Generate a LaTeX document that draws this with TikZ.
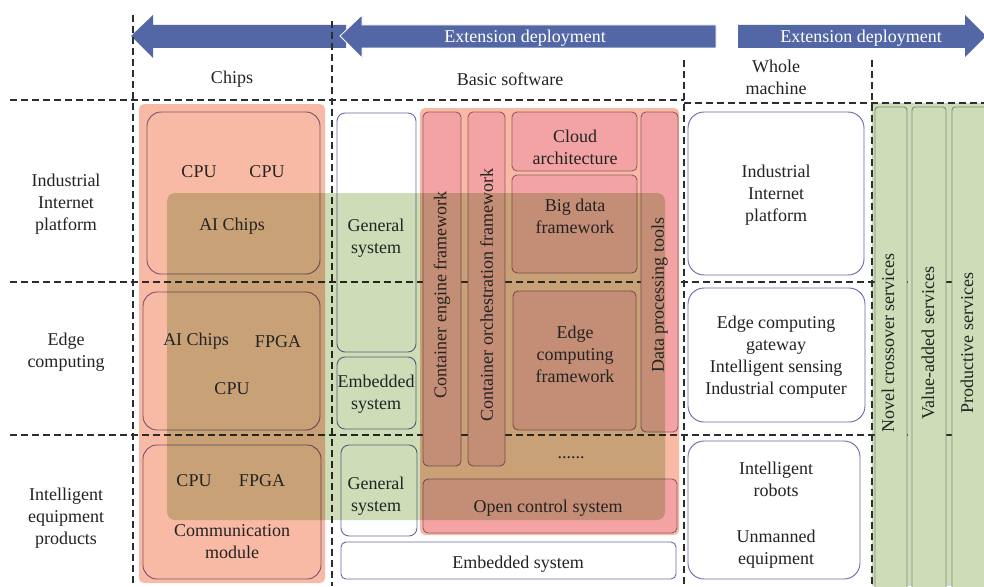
\documentclass[tikz,border=0pt]{standalone}
\usepackage{fontspec}
\setmainfont{Liberation Serif}
\definecolor{arrowblue}{RGB}{83,103,166}
\definecolor{chippink}{RGB}{249,186,165}
\definecolor{framered}{RGB}{243,163,163}
\definecolor{redline}{RGB}{145,90,100}
\definecolor{boxblue}{RGB}{105,105,165}
\definecolor{chipline}{RGB}{120,82,112}
\definecolor{overlaygreen}{RGB}{206,221,184}
\definecolor{servline}{RGB}{125,140,120}
\definecolor{gridgray}{RGB}{45,45,45}
\definecolor{inkgray}{RGB}{35,35,35}
\tikzset{
  chipbox/.style={draw=chipline, line width=0.9pt, rounded corners=14pt, inner sep=0pt},
  redbox/.style={draw=redline, fill=framered, line width=0.9pt, rounded corners=5pt, inner sep=0pt},
  bluebox/.style={draw=boxblue, line width=0.9pt, rounded corners=8pt, inner sep=0pt},
  machinebox/.style={draw=boxblue, line width=0.9pt, rounded corners=16pt, inner sep=0pt},
  servbox/.style={draw=servline, fill=overlaygreen, line width=0.9pt, rounded corners=3pt, inner sep=0pt},
  gridline/.style={draw=gridgray, line width=1.3pt, dash pattern=on 7pt off 4pt},
  label/.style={align=center, inner sep=0pt, text=inkgray, yshift=-1.5pt},
  vlabel/.style={align=center, inner sep=0pt, text=inkgray, rotate=90},
  arrowtext/.style={text=white, inner sep=0pt, yshift=-1pt},
}
\begin{document}
\begin{tikzpicture}[x=1pt, y=-1pt, font=\fontsize{18}{22}\selectfont]
\useasboundingbox (0,0) rectangle (984,586);
\fill[white] (0,0) rectangle (984,586);

% ---- deployment arrows ----
\fill[arrowblue] (131,36) -- (153,15) -- (153,25) -- (346,25) -- (346,48) -- (153,48) -- (153,58) -- cycle;
\filldraw[fill=arrowblue, draw=white, line width=0.8pt] (340,36) -- (362,15) -- (362,25) -- (716,25) -- (716,48) -- (362,48) -- (362,58) -- cycle;
\fill[arrowblue] (738,25) -- (965,25) -- (965,15) -- (986,36) -- (965,57) -- (965,48) -- (738,48) -- cycle;
\node[arrowtext] (extleft) at (525,37) {Extension deployment};
\node[arrowtext] (extright) at (861,37) {Extension deployment};

% ---- column headers ----
\node[label] (hchips) at (232,78) {Chips};
\node[label] (hsoft) at (510,78) {Basic software};
\node[label] (hmach) at (776,76) {Whole\\machine};

% ---- row labels ----
\node[label] (rplat) at (66,203) {Industrial\\Internet\\platform};
\node[label] (redge) at (66,351) {Edge\\computing};
\node[label] (requip) at (66,517) {Intelligent\\equipment\\products};

% ---- background bands ----
\node[fill=chippink, rounded corners=5pt, inner sep=0pt, minimum width=186pt, minimum height=479pt] (chipcol) at (232,343.5) {};
\node[fill=chippink, rounded corners=5pt, inner sep=0pt, minimum width=259pt, minimum height=427pt] (softwrap) at (549.5,321.5) {};
\fill[overlaygreen] (872,103) rectangle (984,586);

% ---- dashed grid ----
\draw[gridline] (133,15) -- (133,586);
\draw[gridline] (332,21) -- (332,586);
\draw[gridline] (684,60) -- (684,586);
\draw[gridline] (872,60) -- (872,586);
\draw[gridline] (10,100) -- (684,100);
\draw[gridline] (684,103) -- (984,103);
\draw[gridline] (10,282) -- (984,282);
\draw[gridline] (10,435) -- (984,435);

% ---- chips ----
\node[chipbox, minimum width=173pt, minimum height=162pt] (chipA) at (233.5,193) {};
\node[chipbox, minimum width=177pt, minimum height=138pt] (chipB) at (231.5,361) {};
\node[chipbox, minimum width=178pt, minimum height=134pt] (chipC) at (232,512) {};

% ---- basic software frameworks ----
\node[redbox, minimum width=38pt, minimum height=354pt] (ce) at (442,289) {};
\node[redbox, minimum width=37pt, minimum height=354pt] (co) at (486.5,289) {};
\node[redbox, minimum width=125pt, minimum height=59pt] (cloud) at (574.5,141.5) {};
\node[redbox, minimum width=125pt, minimum height=98pt] (bigdata) at (574.5,224) {};
\node[redbox, minimum width=37pt, minimum height=320pt] (dp) at (659.5,272) {};
\node[redbox, minimum width=123pt, minimum height=139pt] (edgefw) at (574.5,360.5) {};
\node[redbox, minimum width=254pt, minimum height=54pt] (ocs) at (550,506) {};

\node[bluebox, minimum width=79pt, minimum height=239pt] (gs1) at (376.5,232.5) {};
\node[bluebox, minimum width=79pt, minimum height=72pt] (es1) at (376.5,393) {};
\node[bluebox, minimum width=76pt, minimum height=91pt] (gs2) at (379,490.5) {};
\node[bluebox, rounded corners=5pt, minimum width=335pt, minimum height=37pt] (es2) at (508.5,560.5) {};

% ---- whole machine ----
\node[machinebox, minimum width=176pt, minimum height=163pt] (wm1) at (776,193.5) {};
\node[machinebox, minimum width=177pt, minimum height=134pt] (wm2) at (776.5,355) {};
\node[machinebox, minimum width=172pt, minimum height=138pt] (wm3) at (774,510) {};

% ---- services ----
\node[servbox, minimum width=32pt, minimum height=483pt] (sv1) at (891,348.5) {};
\node[servbox, minimum width=34pt, minimum height=483pt] (sv2) at (929,348.5) {};
\node[servbox, minimum width=40pt, minimum height=483pt] (sv3) at (972,348.5) {};

% ---- shared edge band across chips and software ----
\begin{scope}[blend mode=multiply]
\node[fill=overlaygreen, rounded corners=8pt, inner sep=0pt, minimum width=498pt, minimum height=327pt] (edgeband) at (416,356.5) {};
\end{scope}

% ---- texts: chips ----
\node[label] (cpu1) at (199,170) {CPU};
\node[label] (cpu2) at (267,170) {CPU};
\node[label] (ai1) at (232,225) {AI Chips};
\node[label] (ai2) at (196,340) {AI Chips};
\node[label] (fpga1) at (278,340) {FPGA};
\node[label] (cpu3) at (232,387) {CPU};
\node[label] (cpu4) at (194,479) {CPU};
\node[label] (fpga2) at (262,479) {FPGA};
\node[label] (comm) at (232,540) {Communication\\module};

% ---- texts: basic software ----
\node[label] (tgs1) at (376,237) {General\\system};
\node[label] (tes1) at (376,393) {Embedded\\system};
\node[label] (tgs2) at (376,495) {General\\system};
\node[label] (tes2) at (518,563) {Embedded system};
\node[vlabel] (tce) at (442,295) {Container engine framework};
\node[vlabel] (tco) at (486.5,295) {Container orchestration framework};
\node[vlabel] (tdp) at (659.5,295) {Data processing tools};
\node[label] (tcloud) at (575,146) {Cloud\\architecture};
\node[label] (tbig) at (575,215) {Big data\\framework};
\node[label] (tedge) at (575,353) {Edge\\computing\\framework};
\node[label, anchor=base] (tdots) at (571,457) {......};
\node[label] (tocs) at (548,507) {Open control system};

% ---- texts: whole machine ----
\node[label] (twm1) at (776,194) {Industrial\\Internet\\platform};
\node[label] (twm2) at (776,356) {Edge computing\\gateway\\Intelligent sensing\\Industrial computer};
\node[label] (trobot) at (776,478) {Intelligent\\robots};
\node[label] (tunman) at (776,548) {Unmanned\\equipment};

% ---- texts: services ----
\node[vlabel] (tsv1) at (888,343) {Novel crossover services};
\node[vlabel] (tsv2) at (928,343) {Value-added services};
\node[vlabel] (tsv3) at (967,343) {Productive services};
\end{tikzpicture}
\end{document}
